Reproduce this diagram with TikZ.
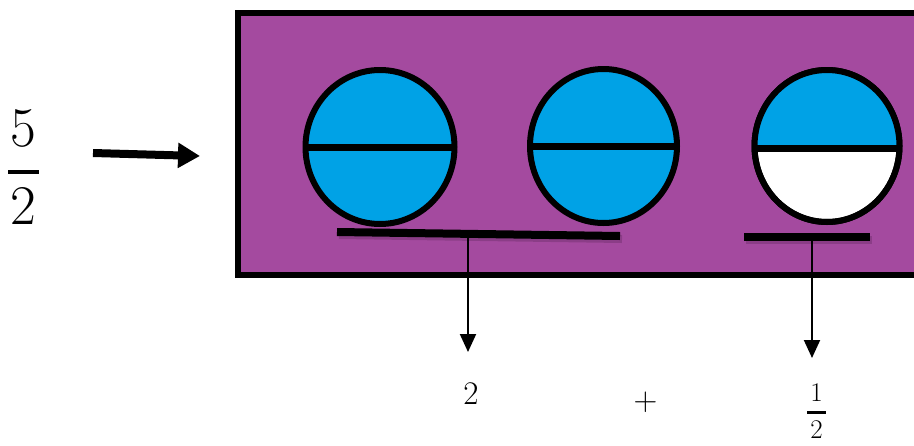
\documentclass[tikz,border=0pt]{standalone}
\usetikzlibrary{shapes.geometric,arrows.meta}
\definecolor{boxpurple}{HTML}{A44A9F}
\definecolor{diskblue}{HTML}{00A2E6}
\definecolor{shadowpurple}{HTML}{6E2F6B}
\tikzset{
  framebox/.style={rectangle, draw=black, line width=6pt, fill=boxpurple, inner sep=0pt, outer sep=0pt},
  disk/.style={ellipse, draw=black, line width=6pt, inner sep=0pt, outer sep=0pt, fill=diskblue},
  divider/.style={line width=7pt},
  underbar/.style={line width=8pt},
  barshadow/.style={line width=8pt, draw=shadowpurple, opacity=0.45},
  pointer/.style={line width=2pt, -{Triangle[width=16pt,length=18pt]}},
  bigarrow/.style={line width=8pt, -{Triangle[width=24pt,length=22pt]}},
  bignum/.style={inner sep=0pt, font=\fontsize{56}{60}\selectfont},
  midnum/.style={inner sep=0pt, font=\fontsize{33}{38}\selectfont},
  halfnum/.style={inner sep=0pt, font=\fontsize{27}{30}\selectfont},
  fracbar/.style={line width=#1},
}
\begin{document}
\begin{tikzpicture}[x=1pt,y=-1pt]
\useasboundingbox (0,0) rectangle (914,445);
\clip (0,0) rectangle (914,445);

% frame
\node[framebox, minimum width=700pt, minimum height=262pt, anchor=north west] (box) at (238,13) {};

% disks
\node[disk, minimum width=149pt, minimum height=154pt] (c1) at (380,147) {};
\node[disk, minimum width=147pt, minimum height=154pt] (c2) at (603.5,146) {};
\node[disk, fill=white, minimum width=145pt, minimum height=152pt] (c3) at (827,146) {};
\begin{scope}
  \clip ([xshift=-80pt,yshift=-2pt]c3.center) rectangle ([xshift=80pt,yshift=85pt]c3.center);
  \fill[diskblue] (c3.center) ellipse[x radius=72.5pt, y radius=76pt];
\end{scope}
\draw[line width=6pt] (c3.center) ellipse[x radius=72.5pt, y radius=76pt];

\draw[divider] (c1.west) -- (c1.east);
\draw[divider] (c2.west) -- (c2.east);
\draw[divider] ([yshift=-2pt]c3.west) -- ([yshift=-2pt]c3.east);

% under bars
\coordinate (b1l) at (337,232);
\coordinate (b1r) at (620,236);
\coordinate (b2l) at (744,237);
\coordinate (b2r) at (870,237);
\draw[barshadow] ([xshift=2pt,yshift=-3pt]b1l) -- ([xshift=2pt,yshift=-3pt]b1r);
\draw[barshadow] ([xshift=2pt,yshift=-3pt]b2l) -- ([xshift=2pt,yshift=-3pt]b2r);
\draw[underbar] (b1l) -- (b1r);
\draw[underbar] (b2l) -- (b2r);

% pointers
\coordinate (p1s) at (468,235);
\coordinate (p1e) at (468,352);
\coordinate (p2s) at (812,238);
\coordinate (p2e) at (812,358);
\draw[pointer] (p1s) -- (p1e);
\draw[pointer] (p2s) -- (p2e);

% left fraction 5/2
\node[bignum] (n5) at (23.5,128) {5};
\node[bignum] (d2) at (23.5,206) {2};
\coordinate (fl) at (8,172);
\coordinate (fr) at (39,172);
\draw[fracbar=4pt] (fl) -- (fr);

% big arrow
\coordinate (as) at (93,153);
\coordinate (ae) at (200,156);
\draw[bigarrow] (as) -- (ae);

% bottom labels
\node[midnum] (two) at (471,393.5) {2};
\node[midnum] (plus) at (645.5,402.5) {+};
\node[halfnum] (one) at (816.5,393) {1};
\node[halfnum] (half2) at (816.5,430) {2};
\coordinate (hl) at (807,412);
\coordinate (hr) at (826,412);
\draw[fracbar=3pt] (hl) -- (hr);
\end{tikzpicture}
\end{document}
